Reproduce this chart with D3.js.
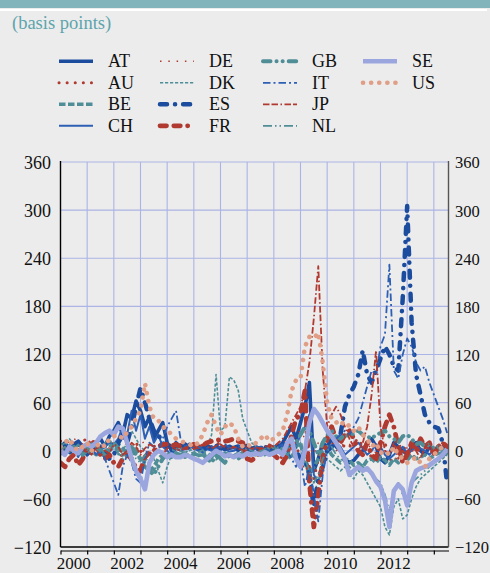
<!DOCTYPE html>
<html><head><meta charset="utf-8">
<script src="https://cdn.jsdelivr.net/npm/d3@7"></script>
<style>
body{margin:0;background:#ececec;}
svg{display:block;font-family:"Liberation Serif","Times New Roman",serif;}
</style>
</head><body>
<svg id="c" width="490" height="573"></svg>
<script>
// time grid: two-month steps from mid-1999
const startYear = 1999.5, stepYears = 1/6;

// values in basis points (pre-2000 | 2000 ... 2013 | 2014)
const AT = [5,10,0,
 8,12,5,-5,3,10, 15,5,18,25,35,20, 45,40,62,50,30,42, 15,25,35,10,0,10,
 5,3,8,5,2,4, 6,3,0,2,5,3, 4,6,2,0,3,5, 2,0,-3,5,5,10,
 20,30,15,35,55,85, -25,-10,10,5,15,5, 0,-10,-15,-12,-5,0, 10,15,5,-10,-15,-5,
 10,5,0,-5,5,10, 0,-5,5,0,5,0, -5];
const AU = [12,15,8,
 10,5,12,15,8,5, 0,-5,5,10,0,-8, -5,5,10,0,-10,-5, 5,10,5,0,3,5,
 8,5,3,5,8,6, 4,5,8,10,6,3, 5,2,0,3,5,2, 0,3,5,0,-5,-10,
 -8,5,10,-15,-25,-20, -35,-10,10,20,10,5, 0,8,5,10,15,5, 0,-8,-5,5,10,-10,
 -15,-5,5,0,-10,-5, 5,10,0,-5,5,10, 5];
const BE = [5,8,3,
 0,-3,5,8,0,-5, -3,-7,0,5,8,3, -3,5,0,-10,-20,-25, -20,-10,-5,-8,-5,-3,
 -5,-8,-5,-3,-6,-5, -3,-7,-10,-5,-3,-5, -8,-5,-3,-5,-2,0, -3,-5,0,3,5,0,
 -5,-10,5,10,-15,-30, -20,-10,0,5,-5,-10, -15,-10,-12,-18,-15,-20, -12,-10,-15,-8,-12,-18,
 -10,-15,-8,-12,-5,-10, -8,-5,-10,-6,-3,-5, -2];
const CH = [-5,0,5,
 3,-3,0,5,8,3, 0,5,10,8,15,30, 20,50,25,45,15,30, 10,20,5,0,-5,3,
 0,2,5,3,0,-2, 2,0,3,5,2,-1, 0,3,1,-2,0,3, 5,2,0,3,8,5,
 10,15,5,20,30,45, -30,-40,-15,0,5,10, 5,-5,0,5,10,3, -5,0,8,5,-5,-10,
 -5,0,5,-3,0,5, 3,0,-5,2,5,3, 0];
const DE = [8,12,10,
 15,12,8,10,14,10, 5,8,3,0,-5,5, 10,5,0,8,12,5, 0,5,8,3,5,8,
 10,5,3,6,8,5, 3,5,2,4,6,3, 2,4,6,3,0,2, 4,0,3,5,10,15,
 5,10,20,25,15,5, -5,10,15,10,5,0, 5,10,8,3,0,5, 8,3,-3,5,10,0,
 -5,5,8,3,-2,5, 8,3,0,5,8,5, 3];
const DK = [10,5,15,
 8,0,5,10,3,-5, 0,10,15,5,-5,0, 10,25,15,5,0,-5, -10,-25,-40,-20,-5,5,
 3,5,0,2,4,5, 5,20,95,25,30,92, 88,75,40,25,10,5, 0,-3,2,5,0,-5,
 -10,-5,5,10,-15,-30, -50,-40,-20,-10,-15,-20, -25,-20,-30,-35,-25,-30, -40,-50,-60,-70,-95,-105,
 -70,-60,-85,-80,-60,-45, -35,-30,-25,-20,-15,-10, -5];
const ES = [0,5,-3,
 5,10,3,-5,0,8, 5,0,-10,-5,10,20, 10,30,55,78,60,40, 25,20,10,5,8,3,
 5,8,3,6,4,2, 5,3,6,4,2,5, 3,1,4,6,2,0, 3,5,2,0,5,10,
 5,10,0,-10,-10,-30, -70,-35,-20,0,5,10, 20,55,70,80,95,125, 95,85,100,115,130,120,
 105,100,190,305,160,95, 70,45,35,30,28,10, -42];
const FR = [-15,-20,-10,
 -5,-18,-10,5,12,8, -5,-10,-5,-15,-20,-10, -5,-10,-22,-25,-8,-2, 0,5,8,8,6,8,
 5,3,6,8,5,7, 10,12,13,14,12,13, 15,12,10,-10,-12,-8, 0,2,5,-5,-10,-15,
 -5,20,40,45,75,-40, -95,-55,-10,15,30,15, 10,20,25,15,0,-5, 10,-5,-10,10,30,45,
 30,5,-15,-5,10,0, 15,5,10,-5,5,10, 5];
const GB = [3,-5,0,
 5,0,-5,3,8,5, 0,-3,5,10,3,-5, 0,5,-5,-10,-15,-25, -30,-20,-10,-5,-8,-3,
 -5,-3,-8,-5,-6,-4, -10,-15,-5,-10,-15,-5, -8,-10,-5,-7,-3,-5, -2,0,3,5,0,-3,
 5,10,10,20,30,25, 10,-5,10,20,25,18, 15,20,18,22,25,20, 18,15,20,22,25,18,
 15,10,18,20,15,8, 10,5,8,3,5,0, 2];
const IT = [5,-3,8,
 0,-8,5,10,3,-5, 0,-10,-25,-40,-55,-20, -5,-15,-35,-40,-10,10, 5,0,15,30,40,50,
 15,5,8,3,5,2, 4,6,3,5,8,4, 2,5,7,3,0,4, 6,3,0,-3,5,8,
 0,-10,-20,-10,-45,-20, -55,-88,-30,0,10,15, 20,25,20,30,40,60, 80,100,95,130,145,232,
 100,90,120,140,130,110, 100,105,85,70,55,40, 22];
const JP = [-3,5,0,
 -5,3,8,0,-5,3, 5,0,-3,8,5,-5, 0,10,5,-5,3,8, 5,0,-5,3,6,2,
 0,4,6,2,5,8, 5,3,6,8,4,2, 5,3,0,6,2,4, 3,5,8,5,10,15,
 25,35,45,55,75,110, 165,230,100,30,45,55, 45,30,15,5,0,10, 30,70,125,30,0,-5,
 10,-10,0,-5,5,0, -10,5,10,-5,5,10, 5];
const NL = [0,5,-3,
 3,8,0,-5,5,10, 3,-5,0,5,-3,-10, -5,0,-10,-15,-5,-20, -25,-15,-10,-5,0,3,
 0,-3,2,0,-2,1, -5,-10,-3,0,-5,-8, -5,-2,0,3,0,-3, 0,2,-3,0,5,3,
 -5,0,10,5,-10,-25, -40,-30,-10,0,5,-5, -10,-15,-20,-25,-15,-20, -25,-30,-35,-40,-55,-75,
 -50,-40,-55,-60,-40,-35, -30,-25,-20,-15,-10,-8, -3];
const SE = [0,-5,5,
 0,-3,5,8,5,10, 18,22,25,20,30,28, 10,-10,-25,-35,-48,-15, -5,0,-3,-8,-5,-8,
 -8,-5,-7,-10,-12,-15, -10,-5,0,-3,-7,-5, -8,-5,-7,-3,-5,-3, -5,-2,-5,-3,0,-5,
 10,15,-10,-20,0,35, 52,45,35,25,18,10, 0,-10,-30,-25,-20,-25, -22,-28,-38,-45,-62,-95,
 -50,-42,-48,-68,-40,-25, -22,-20,-18,-14,-10,-5, 2];
const US = [5,10,15,
 5,0,5,10,0,5, 10,5,15,18,20,15, 23,30,40,50,84,55, 40,38,30,26,20,15,
 12,10,8,5,10,20, 35,45,30,20,30,35, 30,15,5,8,5,10, 15,20,12,15,20,25,
 45,75,88,90,130,142, 140,147,110,60,40,35, 38,30,32,25,30,20, 15,5,10,-3,0,-5,
 5,-5,-10,-15,-12,-8, -15,-20,-10,-5,0,5, 0];

const seriesNames = ["AT","AU","BE","CH","DE","DK","ES","FR","GB","IT","JP","NL","SE","US"];
const seriesValues = [AT,AU,BE,CH,DE,DK,ES,FR,GB,IT,JP,NL,SE,US];
const yTicks = [-120,-60,0,60,120,180,240,300,360];
const xLabelYears = [2000,2002,2004,2006,2008,2010,2012];
const xTickYears = d3.range(0,15).map(k => 1999.5 + k);

const blue = "#1b4c9e", blue2 = "#2d5fb4", red = "#b03a30", teal = "#4f8d97", lav = "#9ba5de", salmon = "#e09e86";
const styles = {
  AT:{c:blue, w:3.6, d:null, cap:"butt"},
  AU:{c:red, w:3, d:"0.1,8", cap:"round"},
  BE:{c:teal, w:3.6, d:"6.5,2.5", cap:"butt"},
  CH:{c:blue2, w:2, d:null, cap:"butt"},
  DE:{c:red, w:1.4, d:"1.5,6.8", cap:"butt"},
  DK:{c:teal, w:1.6, d:"3.2,1.8", cap:"butt"},
  ES:{c:blue, w:4.5, d:"7,8,0.1,8", cap:"round"},
  FR:{c:red, w:4.8, d:"6.5,7.3,6.5,7.3,0.1,7.3", cap:"round"},
  GB:{c:teal, w:4, d:"7.5,6,0.1,6,0.1,6", cap:"round"},
  IT:{c:blue2, w:1.8, d:"7.5,3,2,3", cap:"butt"},
  JP:{c:red, w:1.8, d:"6.5,2,6.5,2.5,1.5,2.5", cap:"butt"},
  NL:{c:teal, w:1.8, d:"9,3,1.5,3,1.5,3", cap:"butt"},
  SE:{c:lav, w:4.6, d:null, cap:"butt"},
  US:{c:salmon, w:4.6, d:"0.1,8", cap:"round"}
};

const svg = d3.select("#c");
const W = 490, H = 573;
const L = 60.5, R = 448.5, T = 162, B = 547;
svg.append("rect").attr("width",W).attr("height",H).attr("fill","#ececec");
svg.append("rect").attr("x",0).attr("y",0).attr("width",W).attr("height",8).attr("fill","#82b4bc");
svg.append("rect").attr("x",0).attr("y",9).attr("width",487).attr("height",2).attr("fill","#ffffff");
svg.append("text").attr("x",12).attr("y",28.5).attr("fill","#5ea4ac").attr("font-size",18.5).text("(basis points)");

const x = d3.scaleLinear().domain([1999.5, 2014.05]).range([L, R]);
const y = d3.scaleLinear().domain([-120, 360]).range([B, T]);

// grid
const grid = svg.append("g").attr("stroke","#abb4e5").attr("stroke-width",1.1);
grid.selectAll("line.h").data(yTicks.filter(v => v > -120)).join("line")
  .attr("x1",L).attr("x2",R).attr("y1",d=>y(d)).attr("y2",d=>y(d));
grid.selectAll("line.v").data(xTickYears.slice(1)).join("line")
  .attr("x1",d=>x(d)).attr("x2",d=>x(d)).attr("y1",T).attr("y2",B);

// series
svg.append("clipPath").attr("id","clip").append("rect").attr("x",L).attr("y",T-2).attr("width",R-L).attr("height",B-T+2);
const line = d3.line().x((d,i)=>x(startYear + i*stepYears)).y(d=>y(d));
const gS = svg.append("g").attr("clip-path","url(#clip)");
seriesNames.forEach((n,k)=>{
  const s = styles[n];
  gS.append("path").datum(seriesValues[k]).attr("d",line)
    .attr("fill","none").attr("stroke",s.c).attr("stroke-width",s.w)
    .attr("stroke-dasharray",s.d).attr("stroke-linecap",s.cap).attr("stroke-linejoin","round");
});

// frame
svg.append("line").attr("x1",L).attr("x2",L).attr("y1",T-1).attr("y2",B).attr("stroke","#000").attr("stroke-width",1.4);
svg.append("line").attr("x1",L).attr("x2",R).attr("y1",B).attr("y2",B).attr("stroke","#000").attr("stroke-width",1.4);
svg.append("line").attr("x1",R).attr("x2",R).attr("y1",T-1).attr("y2",B).attr("stroke","#555").attr("stroke-width",1.4);

// x axis (offset below)
const xa = svg.append("g").attr("transform",`translate(0,550.5)`)
  .call(d3.axisBottom(x).tickValues(xTickYears).tickFormat("").tickSize(4).tickSizeOuter(0));
xa.select(".domain").attr("stroke","#000").attr("stroke-width",1.2);
xa.selectAll(".tick line").attr("stroke","#000").attr("stroke-width",1.2);
svg.append("g").selectAll("text").data(xLabelYears).join("text")
  .attr("x",d=>x(d)).attr("y",568.5).attr("text-anchor","middle").attr("font-size",17).attr("fill","#111").text(d=>d);

// y labels
const yl = svg.append("g").attr("transform",`translate(${L},0)`)
  .call(d3.axisLeft(y).tickValues(yTicks).tickSize(0).tickPadding(9.5));
yl.select(".domain").remove();
yl.selectAll("text").attr("font-size",18).attr("font-family","Liberation Serif, serif").attr("fill","#111").attr("dy","0.36em");
const yr = svg.append("g").attr("transform",`translate(${R},0)`)
  .call(d3.axisRight(y).tickValues(yTicks).tickSize(0).tickPadding(6.5));
yr.select(".domain").remove();
yr.selectAll("text").attr("font-size",16.5).attr("font-family","Liberation Serif, serif").attr("fill","#111").attr("dy","0.36em");

// legend
const colX = [59,160,263,363];
const lg = svg.append("g");
seriesNames.forEach((n,k)=>{
  const col = Math.floor(k/4), row = k%4;
  const yy = 61.3 + row*21.5, xx = colX[col];
  const s = styles[n];
  lg.append("line").attr("x1",xx).attr("x2",xx+34).attr("y1",yy).attr("y2",yy)
    .attr("stroke",s.c).attr("stroke-width",s.w).attr("stroke-dasharray",s.d).attr("stroke-linecap",s.cap);
  lg.append("text").attr("x",xx+49).attr("y",yy+6).attr("font-size",18).attr("fill","#111").text(n);
});
</script>
</body></html>
